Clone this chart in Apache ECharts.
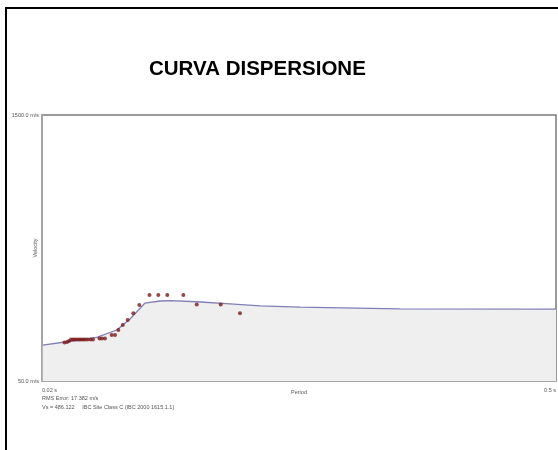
<!DOCTYPE html>
<html>
<head>
<meta charset="utf-8">
<script src="https://cdn.jsdelivr.net/npm/echarts@6/dist/echarts.min.js"></script>
<style>
  html, body { margin: 0; padding: 0; background: #fff; }
  #chart { width: 558px; height: 450px; }
</style>
</head>
<body>
<div id="chart"></div>
<script>
// Fitted dispersion curve: period (s) and phase velocity (m/s)
var curvePeriod   = [0.0207, 0.0431, 0.0711, 0.0898, 0.1022, 0.1162, 0.1302, 0.1396, 0.1645, 0.1956, 0.2236, 0.261, 0.354, 0.5];
var curveVelocity = [246, 264, 288, 328, 388, 475, 486, 488, 482, 470, 459, 453, 443, 442];

// Picked dispersion points
var pickPeriod   = [0.0410, 0.0434, 0.0452, 0.0471, 0.0490, 0.0508, 0.0527, 0.0546, 0.0564, 0.0583, 0.0602, 0.0625, 0.0653, 0.0676,
                    0.0737, 0.0760, 0.0788, 0.0851, 0.0882, 0.0913, 0.0954, 0.1000, 0.1053, 0.1109, 0.1204, 0.1286, 0.1370, 0.1520,
                    0.1645, 0.1869, 0.2049];
var pickVelocity = [260, 263, 268, 276, 276, 276, 276, 276, 276, 276, 276, 276, 276, 276,
                    282, 282, 282, 301, 301, 328, 355, 383, 419, 464, 519, 519, 519, 519,
                    467, 467, 419];

// Axis range and labelled ticks
var periodTicks   = [0.02, 0.5];
var velocityTicks = [50, 1500];

var chartTitle = 'CURVA DISPERSIONE';
var rmsText = 'RMS Error: 17.382 m/s';
var vsText = 'Vs = 486.122     IBC Site Class C (IBC 2000 1615.1.1)';

var curveData = curvePeriod.map(function (p, i) { return [p, curveVelocity[i]]; });
var pickData = pickPeriod.map(function (p, i) { return [p, pickVelocity[i]]; });

var FONT = '"Liberation Sans", Arial, sans-serif';
var chart = echarts.init(document.getElementById('chart'), null, { renderer: 'canvas' });

chart.setOption({
  animation: false,
  backgroundColor: '#ffffff',
  title: {
    text: chartTitle,
    left: 149,
    top: 59,
    padding: 0,
    textStyle: { fontFamily: FONT, fontWeight: 'bold', fontSize: 20.5, color: '#000' }
  },
  grid: {
    left: 42, top: 115, right: 2, bottom: 69,
    containLabel: false,
    outerBoundsMode: 'none',
    show: true,
    backgroundColor: '#ffffff',
    borderColor: '#7a7a7a',
    borderWidth: 1.5
  },
  xAxis: {
    type: 'value',
    min: periodTicks[0],
    max: periodTicks[periodTicks.length - 1],
    name: 'Period',
    nameLocation: 'middle',
    nameGap: 8,
    nameMoveOverlap: false,
    nameTextStyle: { fontFamily: FONT, fontSize: 5.5, color: '#555' },
    axisLine: { show: true, lineStyle: { color: '#a8a8a8', width: 2 } },
    axisTick: { show: false },
    splitLine: { show: false },
    axisLabel: {
      customValues: periodTicks,
      fontFamily: FONT, fontSize: 5.5, color: '#555',
      margin: 6,
      alignMinLabel: 'left',
      alignMaxLabel: 'right',
      formatter: function (v) { return v + ' s'; }
    }
  },
  yAxis: {
    type: 'value',
    min: velocityTicks[0],
    max: velocityTicks[velocityTicks.length - 1],
    name: 'Velocity',
    nameLocation: 'middle',
    nameGap: 4,
    nameMoveOverlap: false,
    nameTextStyle: { fontFamily: FONT, fontSize: 5.5, color: '#555' },
    axisLine: { show: true, lineStyle: { color: '#a8a8a8', width: 1.5 } },
    axisTick: { show: false },
    splitLine: { show: false },
    axisLabel: {
      customValues: velocityTicks,
      fontFamily: FONT, fontSize: 5.5, color: '#555',
      margin: 3,
      formatter: function (v) { return v.toFixed(1) + ' m/s'; }
    }
  },
  series: [
    {
      type: 'line',
      data: curveData,
      showSymbol: false,
      lineStyle: { color: '#7f7fb5', width: 1.3 },
      areaStyle: { color: '#efefef', opacity: 1, origin: 'start' },
      z: 2
    },
    {
      type: 'scatter',
      data: pickData,
      symbol: 'circle',
      symbolSize: 4,
      itemStyle: { color: '#7a1a1a' },
      z: 3
    }
  ],
  graphic: [
    {
      type: 'rect',
      shape: { x: 6, y: 8, width: 600, height: 500 },
      style: { fill: 'none', stroke: '#000', lineWidth: 2 },
      z: 10
    },
    {
      type: 'text',
      left: 42, top: 395,
      style: { text: rmsText, font: '5.5px ' + FONT, fill: '#555' }
    },
    {
      type: 'text',
      left: 42, top: 404,
      style: { text: vsText, font: '5.5px ' + FONT, fill: '#555' }
    }
  ]
});
</script>
</body>
</html>
